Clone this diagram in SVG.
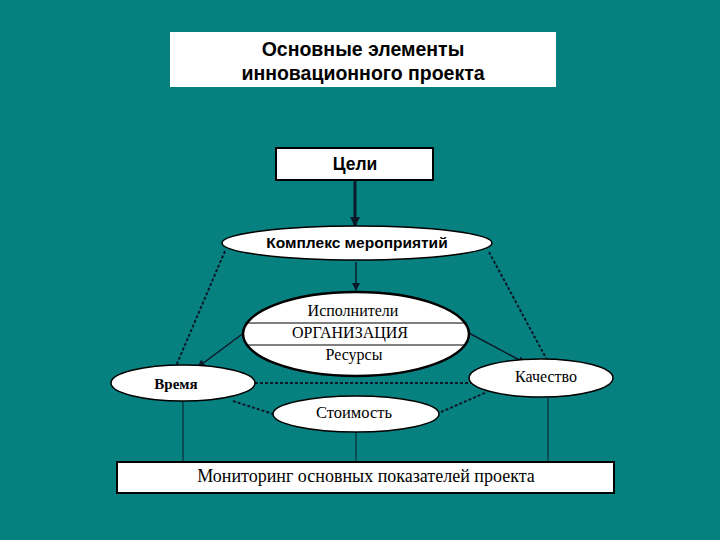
<svg xmlns="http://www.w3.org/2000/svg" width="720" height="540" viewBox="0 0 720 540">
<style>
.sans{font-family:"Liberation Sans",Arial,sans-serif;font-weight:bold;fill:#000}
.serif{font-family:"Liberation Serif","Times New Roman",serif;fill:#000}
.node{fill:#fff;stroke:#000;stroke-width:1.5}
.dash{stroke:#0a1a2a;stroke-width:2;stroke-dasharray:3 2;fill:none}
.thin{stroke:#0a1a2a;stroke-width:1;fill:none}
.arr{stroke:#0a1a2a;stroke-width:1.5;fill:none}
</style>
<defs>
<marker id="ah" markerWidth="8" markerHeight="8" refX="7" refY="4" orient="auto" markerUnits="userSpaceOnUse">
<path d="M0,0 L8,4 L0,8 z" fill="#0a1a2a"/>
</marker>
<marker id="ahs" markerWidth="10" markerHeight="10" refX="9" refY="5" orient="auto" markerUnits="userSpaceOnUse">
<path d="M0,0 L10,5 L0,10 z" fill="#0a1a2a"/>
</marker>
</defs>
<rect width="720" height="540" fill="#078080"/>
<g id="title">
<rect x="170" y="32" width="386" height="55" fill="#fff"/>
<text class="sans" x="363" y="56" font-size="19.5" text-anchor="middle">Основные элементы</text>
<text class="sans" x="363" y="80" font-size="19.5" text-anchor="middle">инновационного проекта</text>
</g>
<g id="connectors">
<line x1="355" y1="181" x2="355" y2="226" stroke="#0a1a2a" stroke-width="3" marker-end="url(#ahs)"/>
<line x1="356" y1="262" x2="356" y2="290" class="arr" marker-end="url(#ah)"/>
<line x1="225" y1="251" x2="176" y2="366" class="dash"/>
<line x1="489" y1="252" x2="547" y2="360" class="dash"/>
<line x1="245" y1="332" x2="198" y2="367" class="arr" marker-end="url(#ah)"/>
<line x1="467" y1="332" x2="525" y2="363" class="arr" marker-end="url(#ah)"/>
<line x1="255" y1="383" x2="471" y2="383" class="dash"/>
<line x1="233" y1="401" x2="273" y2="414" class="dash"/>
<line x1="441" y1="412" x2="487" y2="392" class="dash"/>
<line x1="183" y1="401" x2="183" y2="462" class="thin"/>
<line x1="356" y1="432" x2="356" y2="462" class="thin"/>
<line x1="548" y1="398" x2="548" y2="462" class="thin"/>
</g>
<g id="goals">
<rect x="276" y="148" width="157" height="32" fill="#fff" stroke="#000" stroke-width="2"/>
<text class="sans" x="355" y="170" font-size="17.5" text-anchor="middle">Цели</text>
</g>
<g id="complex">
<ellipse cx="357" cy="243" rx="135" ry="17" class="node"/>
<text class="sans" x="357" y="248" font-size="15.5" text-anchor="middle">Комплекс мероприятий</text>
</g>
<g id="organization">
<ellipse cx="356" cy="334" rx="113" ry="42" fill="#fff" stroke="#000" stroke-width="2.5"/>
<line x1="245" y1="323" x2="467" y2="323" stroke="#000" stroke-width="1.2"/>
<line x1="247" y1="345" x2="465" y2="345" stroke="#000" stroke-width="1.2"/>
<text class="serif" x="353" y="316" font-size="16" text-anchor="middle">Исполнители</text>
<text class="serif" x="350" y="338" font-size="16" text-anchor="middle">ОРГАНИЗАЦИЯ</text>
<text class="serif" x="354" y="360" font-size="16" text-anchor="middle">Ресурсы</text>
</g>
<g id="time">
<ellipse cx="183" cy="383" rx="72" ry="18" class="node"/>
<text class="serif" x="176" y="389" font-size="15" font-weight="bold" text-anchor="middle">Время</text>
</g>
<g id="quality">
<ellipse cx="541" cy="378" rx="72" ry="19" class="node"/>
<text class="serif" x="546" y="382" font-size="16" text-anchor="middle">Качество</text>
</g>
<g id="cost">
<ellipse cx="356" cy="414" rx="83" ry="18" class="node"/>
<text class="serif" x="354" y="418" font-size="16.5" text-anchor="middle">Стоимость</text>
</g>
<g id="monitoring">
<rect x="117" y="462" width="497" height="31" fill="#fff" stroke="#000" stroke-width="2"/>
<text class="serif" x="366" y="482" font-size="18" text-anchor="middle">Мониторинг основных показателей проекта</text>
</g>
</svg>
